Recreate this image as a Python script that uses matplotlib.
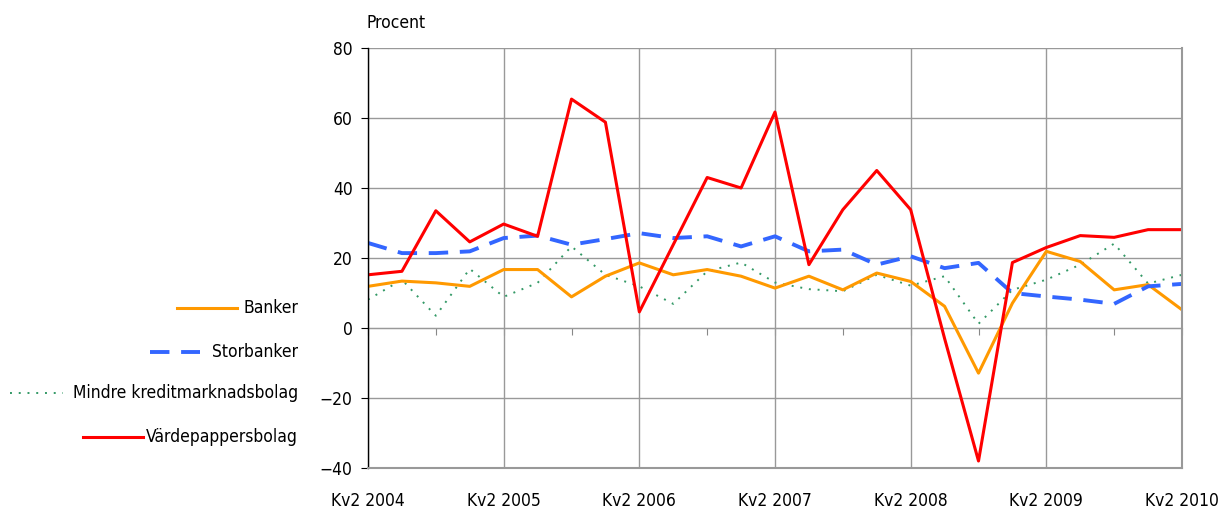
import matplotlib
matplotlib.use("Agg")
import matplotlib.pyplot as plt
from matplotlib.lines import Line2D

plt.rcParams['font.family'] = ['DejaVu Sans']
plt.rcParams['font.stretch'] = 'condensed'

# Quarterly data, Kv2 2004 .. Kv2 2010
quarters = list(range(25))
year_labels = ['Kv2 2004', 'Kv2 2005', 'Kv2 2006', 'Kv2 2007', 'Kv2 2008', 'Kv2 2009', 'Kv2 2010']

banker = [11.9, 13.4, 12.9, 11.9, 16.7, 16.7, 8.9, 14.8, 18.6, 15.2, 16.7, 14.8, 11.4,
          14.8, 10.9, 15.7, 13.3, 6.2, -12.9, 7.1, 21.9, 19.0, 10.9, 12.4, 5.2]
storbanker = [24.3, 21.4, 21.4, 21.9, 25.7, 26.4, 23.8, 25.4, 27.1, 25.7, 26.2, 23.3, 26.2,
              21.9, 22.4, 18.1, 20.5, 17.1, 18.6, 10.0, 9.0, 8.1, 6.9, 11.9, 12.6]
mindre = [8.1, 13.8, 3.5, 16.9, 8.9, 12.9, 23.3, 15.2, 11.9, 6.9, 16.2, 18.7, 13.0,
          11.1, 10.5, 15.2, 12.1, 14.8, 1.2, 10.9, 13.8, 18.1, 24.1, 12.7, 15.2]
vardepapper = [15.2, 16.2, 33.5, 24.6, 29.7, 26.2, 65.4, 58.8, 4.6, 23.8, 43.0, 40.0, 61.7,
               18.1, 33.8, 45.0, 33.8, -3.0, -38.0, 18.7, 23.0, 26.4, 25.9, 28.1, 28.1]

fig = plt.figure(figsize=(12.18, 5.14), dpi=100)
ax = fig.add_axes([368 / 1218, 1 - 468 / 514, (1182 - 368) / 1218, 420 / 514])

c_orange = '#FF9900'
c_blue = '#3366FF'
c_green = '#339966'
c_red = '#FF0000'

ax.plot(quarters, mindre, color=c_green, lw=1.4, ls=(0, (1, 3.5)))
ax.plot(quarters, banker, color=c_orange, lw=2.2)
ax.plot(quarters, storbanker, color=c_blue, lw=2.8, ls=(0, (5, 3)))
ax.plot(quarters, vardepapper, color=c_red, lw=2.2)

ax.set_xlim(0, 24)
ax.set_ylim(-40, 80)
ax.set_yticks(range(-40, 81, 20))
ax.set_yticklabels(['\u221240', '\u221220', '0', '20', '40', '60', '80'])
ax.set_xticks(range(0, 25, 4))
ax.set_xticklabels(year_labels)
ax.grid(True, color='#999999', lw=1.0)
ax.set_axisbelow(True)

ax.spines['top'].set_visible(False)
for s in ['right', 'bottom']:
    ax.spines[s].set_color('#999999')
    ax.spines[s].set_linewidth(1.5)
ax.spines['left'].set_color('black')
ax.spines['left'].set_linewidth(1.0)
ax.tick_params(axis='y', length=5, labelsize=12.5, color='black', pad=6)
ax.tick_params(axis='x', length=0, labelsize=12.5, pad=17)

# tick marks along the zero line every half year
sec = ax.secondary_xaxis(0, transform=ax.transData)
sec.set_xticks(range(0, 25, 2))
sec.set_xticklabels([])
sec.tick_params(axis='x', length=5, color='#888888', direction='out')
sec.spines['bottom'].set_color('#999999')

fig.text(367 / 1218, 1 - 23 / 514, 'Procent', fontsize=12.5, ha='left', va='center')

# legend, drawn at the left of the figure
legend_items = [
    ('Banker', c_orange, '-', 2.2, 177, 237, 308),
    ('Storbanker', c_blue, (0, (5, 3)), 2.8, 150, 200, 352),
    ('Mindre kreditmarknadsbolag', c_green, (0, (1, 3.5)), 1.4, 10, 63, 393),
    ('Värdepappersbolag', c_red, '-', 2.2, 83, 143, 437),
]
for label, col, ls, lw, x0, x1, y in legend_items:
    yf = 1 - y / 514
    fig.add_artist(Line2D([x0 / 1218, x1 / 1218], [yf, yf], color=col, ls=ls, lw=lw,
                          transform=fig.transFigure))
    fig.text(298 / 1218, yf, label, fontsize=12.5, ha='right', va='center')

fig.savefig('out.png', dpi=100)
